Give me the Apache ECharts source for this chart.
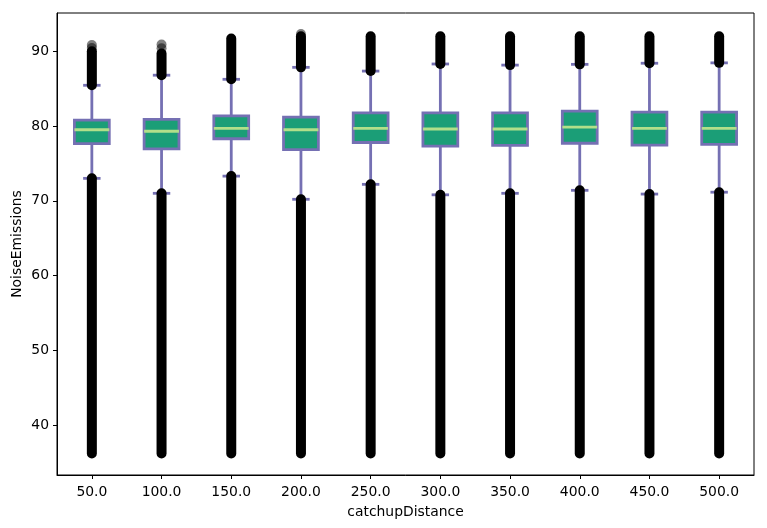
<!DOCTYPE html>
<html>
<head>
<meta charset="utf-8">
<script src="https://cdn.jsdelivr.net/npm/echarts@6/dist/echarts.min.js"></script>
<style>html,body{margin:0;padding:0;background:#fff}#c{width:767px;height:528px}</style>
</head>
<body>
<div id="c"></div>
<script>
// ---- data ----
const categories = ['50.0','100.0','150.0','200.0','250.0','300.0','350.0','400.0','450.0','500.0'];
const whiskerLow  = [73.0, 71.0, 73.3, 70.2, 72.2, 70.8, 71.0, 71.4, 70.9, 71.15];
const q1          = [77.65, 76.95, 78.3, 76.85, 77.8, 77.3, 77.4, 77.7, 77.45, 77.55];
const median      = [79.5, 79.3, 79.7, 79.5, 79.7, 79.6, 79.6, 79.85, 79.7, 79.7];
const q3          = [80.8, 80.9, 81.35, 81.2, 81.75, 81.75, 81.75, 82.0, 81.85, 81.85];
const whiskerHigh = [85.45, 86.8, 86.25, 87.85, 87.35, 88.3, 88.15, 88.25, 88.4, 88.45];
const flierLowMin = [36.2, 36.2, 36.2, 36.2, 36.2, 36.2, 36.2, 36.2, 36.2, 36.2];
const flierHighMax= [90.0, 89.7, 91.7, 92.0, 92.0, 92.0, 92.0, 92.0, 92.0, 92.0];
// sparse outliers drawn individually: [category index, value]
const sparseFliers = [[0, 90.45], [0, 90.85], [1, 90.4], [1, 90.9], [3, 92.3]];
const yTicks = [40, 50, 60, 70, 80, 90];

const boxColor = '#1b9e77', edgeColor = '#7570b3', medianColor = '#b2df8a';

const boxData = categories.map((c, i) => [i, whiskerLow[i], q1[i], median[i], q3[i], whiskerHigh[i], flierLowMin[i], flierHighMax[i]]);

function renderBox(params, api) {
  const i = api.value(0);
  const band = api.size([1, 0])[0];
  const hw = band * 0.25, cw = band * 0.125;
  const P = v => api.coord([i, v]);
  const wlo = P(api.value(1)), b1 = P(api.value(2)), md = P(api.value(3)), b3 = P(api.value(4)), whi = P(api.value(5));
  const flo = P(api.value(6)), fhi = P(api.value(7));
  const x = wlo[0];
  const lw = 2.8;
  const lineStyle = {stroke: edgeColor, lineWidth: lw};
  return {
    type: 'group',
    children: [
      {type: 'line', shape: {x1: x, y1: b3[1], x2: x, y2: whi[1]}, style: lineStyle},
      {type: 'line', shape: {x1: x, y1: b1[1], x2: x, y2: wlo[1]}, style: lineStyle},
      {type: 'line', shape: {x1: x - cw, y1: whi[1], x2: x + cw, y2: whi[1]}, style: lineStyle},
      {type: 'line', shape: {x1: x - cw, y1: wlo[1], x2: x + cw, y2: wlo[1]}, style: lineStyle},
      {type: 'line', shape: {x1: x, y1: flo[1], x2: x, y2: wlo[1]}, style: {stroke: '#000', lineWidth: 10, lineCap: 'round'}},
      {type: 'line', shape: {x1: x, y1: whi[1], x2: x, y2: fhi[1]}, style: {stroke: '#000', lineWidth: 10, lineCap: 'round'}},
      {type: 'rect', shape: {x: x - hw, y: b3[1], width: 2 * hw, height: b1[1] - b3[1]}, style: {fill: boxColor, stroke: edgeColor, lineWidth: lw}},
      {type: 'line', shape: {x1: x - hw, y1: md[1], x2: x + hw, y2: md[1]}, style: {stroke: medianColor, lineWidth: lw}}
    ]
  };
}

const font = 'DejaVu Sans';
const chart = echarts.init(document.getElementById('c'), null, {renderer: 'canvas'});
chart.setOption({
  animation: false,
  grid: {left: 57, right: 13, top: 13, bottom: 53, containLabel: false, outerBoundsMode: 'none',
         show: true, borderColor: '#000', borderWidth: 1, backgroundColor: 'transparent'},
  xAxis: {
    type: 'category', data: categories, boundaryGap: true,
    name: 'catchupDistance', nameLocation: 'middle', nameGap: 30, nameMoveOverlap: false,
    nameTextStyle: {color: '#000', fontFamily: font, fontSize: 13.9},
    axisLine: {show: true, lineStyle: {color: '#000', width: 1}},
    axisTick: {show: true, alignWithLabel: true, length: 4, lineStyle: {color: '#000'}},
    axisLabel: {color: '#000', fontFamily: font, fontSize: 13.9, margin: 10, interval: 0},
    splitLine: {show: false}
  },
  yAxis: {
    type: 'value', min: 33.32, max: 95.12,
    name: 'NoiseEmissions', nameLocation: 'middle', nameGap: 33, nameMoveOverlap: false,
    nameTextStyle: {color: '#000', fontFamily: font, fontSize: 13.9},
    axisLine: {show: true, lineStyle: {color: '#000', width: 1}},
    axisTick: {show: true, length: 4, lineStyle: {color: '#000'}, customValues: yTicks},
    axisLabel: {color: '#000', fontFamily: font, fontSize: 13.9, margin: 8, customValues: yTicks},
    splitLine: {show: false}
  },
  series: [
    {type: 'custom', renderItem: renderBox, data: boxData, encode: {x: 0, y: [1, 2, 3, 4, 5, 6, 7]}, clip: true, z: 2},
    {type: 'scatter', data: sparseFliers, symbol: 'circle', symbolSize: 10, itemStyle: {color: '#000', opacity: 0.5}, z: 3}
  ]
});
</script>
</body>
</html>
